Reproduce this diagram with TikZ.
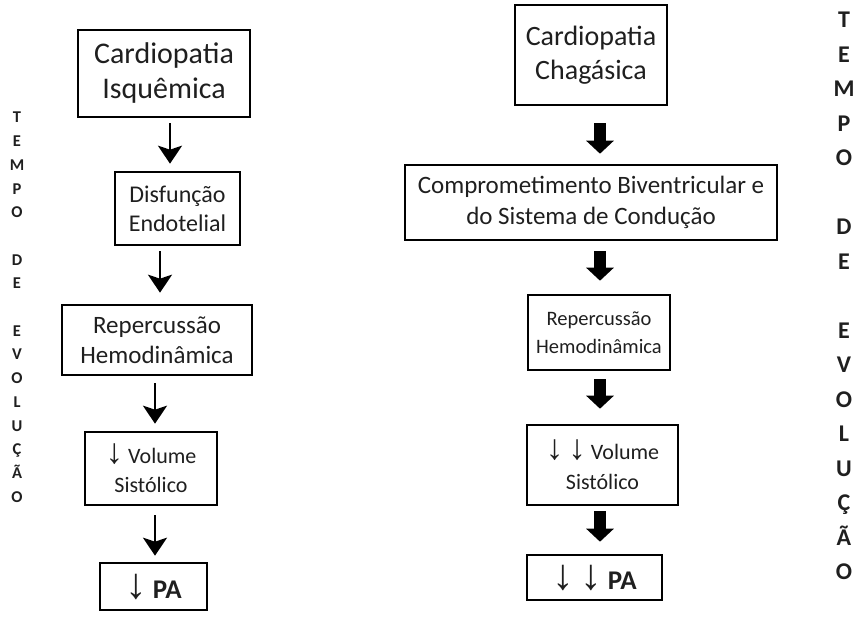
\documentclass[tikz,border=0pt]{standalone}
\usepackage{fontspec}
\setmainfont{Carlito}
\newfontfamily\arrowfont[Scale=1.6]{Liberation Sans}
\usetikzlibrary{arrows.meta}
\newcommand{\dn}{{\arrowfont ↓}}
\begin{document}
\begin{tikzpicture}[x=1pt,y=-1pt,
  box/.style={draw, line width=2.6pt, align=center, inner sep=0pt, text=black!88},
  thinarrow/.style={line width=2.6pt, -{Stealth[length=18pt,width=24pt,inset=4pt]}},
  blockarrow/.style={line width=12pt, -{Triangle[length=13pt,width=27pt]}},
  vlabel/.style={align=center, inner sep=0pt, anchor=north, text=black!88}]
\useasboundingbox (0,0) rectangle (857,618);

% ischaemic heart disease chain
\node[box, minimum width=172pt, minimum height=87pt, font=\fontsize{30}{35}\selectfont]
  (l1) at (164,73.5) {Cardiopatia\\Isquêmica};
\node[box, minimum width=125pt, minimum height=73pt, font=\fontsize{24}{29}\selectfont]
  (l2) at (177.5,208.5) {Disfunção\\Endotelial};
\node[box, minimum width=190pt, minimum height=70pt, font=\fontsize{25}{30}\selectfont]
  (l3) at (157,340) {Repercussão\\Hemodinâmica};
\node[box, minimum width=132pt, minimum height=73pt, font=\fontsize{22}{29}\selectfont]
  (l4) at (151,468.5) {\dn{} Volume\\Sistólico};
\node[box, minimum width=107pt, minimum height=47pt, font=\bfseries\fontsize{27}{30}\selectfont]
  (l5) at (153.5,586.5) {\dn{} PA};

\draw[thinarrow, shorten <=5pt, shorten >=7pt] (l1.south -| 170,0) -- (l2.north -| 170,0);
\draw[thinarrow, shorten <=5pt, shorten >=11pt] (l2.south -| 160,0) -- (l3.north -| 160,0);
\draw[thinarrow, shorten <=7pt, shorten >=7pt] (l3.south -| 155,0) -- (l4.north -| 155,0);
\draw[thinarrow, shorten <=9pt, shorten >=6pt] (l4.south -| 155,0) -- (l5.north -| 155,0);

% Chagas heart disease chain
\node[box, minimum width=152pt, minimum height=100pt, font=\fontsize{28}{34}\selectfont]
  (r1) at (591,55) {Cardiopatia\\Chagásica};
\node[box, minimum width=372pt, minimum height=75pt, font=\fontsize{25}{31}\selectfont]
  (r2) at (591,202.5) {Comprometimento Biventricular e\\do Sistema de Condução};
\node[box, minimum width=142pt, minimum height=75pt, font=\fontsize{20.5}{28}\selectfont]
  (r3) at (599,332.5) {Repercussão\\Hemodinâmica};
\node[box, minimum width=151pt, minimum height=80pt, font=\fontsize{22}{30}\selectfont]
  (r4) at (602.5,465) {\dn{} \dn{} Volume\\Sistólico};
\node[box, minimum width=135pt, minimum height=45pt, font=\bfseries\fontsize{27}{30}\selectfont]
  (r5) at (594.5,577.5) {\dn{} \dn{} PA};

\draw[blockarrow, shorten <=17pt, shorten >=10pt] (r1.south -| 600,0) -- (r2.north -| 600,0);
\draw[blockarrow, shorten <=10pt, shorten >=13pt] (r2.south -| 600,0) -- (r3.north -| 600,0);
\draw[blockarrow, shorten <=8pt, shorten >=15pt] (r3.south -| 600,0) -- (r4.north -| 600,0);
\draw[blockarrow, shorten <=5pt, shorten >=12pt] (r4.south -| 600,0) -- (r5.north -| 600,0);

% vertical side captions
\node[vlabel, font=\bfseries\fontsize{16.5}{23.7}\selectfont] (tl) at (17,112)
  {T\\E\\M\\P\\O\\\mbox{}\\D\\E\\\mbox{}\\E\\V\\O\\L\\U\\Ç\\Ã\\O};
\node[vlabel, font=\bfseries\fontsize{24}{34.5}\selectfont] (tr) at (844,12)
  {T\\E\\M\\P\\O\\\mbox{}\\D\\E\\\mbox{}\\E\\V\\O\\L\\U\\Ç\\Ã\\O};
\end{tikzpicture}
\end{document}
